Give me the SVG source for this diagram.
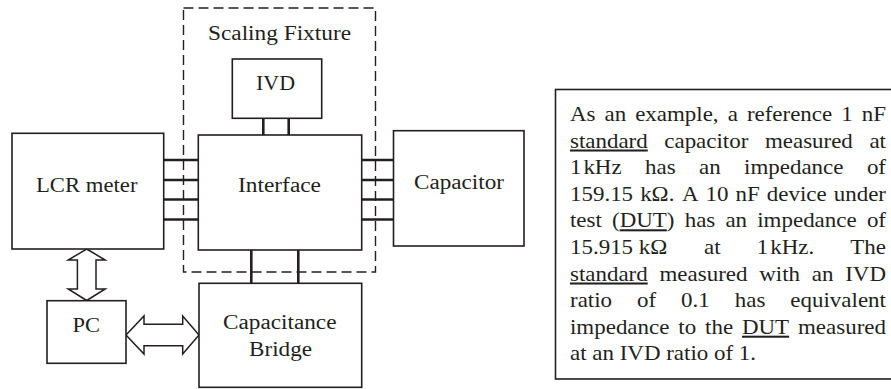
<svg xmlns="http://www.w3.org/2000/svg" width="891" height="389" viewBox="0 0 891 389">
<style>
.box{fill:#fff;stroke:#231f20;stroke-width:1.6}
.lbl{font-family:"Liberation Serif","Times New Roman",serif;font-size:20.5px;fill:#231f20}
.wire{stroke:#231f20;stroke-width:2.6;fill:none}
.dash{fill:none;stroke:#231f20;stroke-width:1.4;stroke-dasharray:10 5}
.arr{fill:#fff;stroke:#231f20;stroke-width:1.5;stroke-linejoin:miter}
.u{text-decoration:underline}
</style>
<rect width="891" height="389" fill="#fff"/>
<g id="scaling-fixture">
<rect class="dash" x="183.5" y="8" width="192" height="264"/>
<text class="lbl" x="208" y="39.5" textLength="143" lengthAdjust="spacingAndGlyphs">Scaling Fixture</text>
</g>
<g id="connectors">
<line class="wire" x1="163.7" y1="160" x2="198.3" y2="160"/>
<line class="wire" x1="163.7" y1="180" x2="198.3" y2="180"/>
<line class="wire" x1="163.7" y1="199.5" x2="198.3" y2="199.5"/>
<line class="wire" x1="163.7" y1="219.5" x2="198.3" y2="219.5"/>
<line class="wire" x1="361.7" y1="160" x2="393.5" y2="160"/>
<line class="wire" x1="361.7" y1="180" x2="393.5" y2="180"/>
<line class="wire" x1="361.7" y1="199.5" x2="393.5" y2="199.5"/>
<line class="wire" x1="361.7" y1="219.5" x2="393.5" y2="219.5"/>
<line class="wire" x1="263.3" y1="118.3" x2="263.3" y2="135"/>
<line class="wire" x1="288.7" y1="118.3" x2="288.7" y2="135"/>
<line class="wire" x1="251.3" y1="250" x2="251.3" y2="283.3"/>
<line class="wire" x1="298.3" y1="250" x2="298.3" y2="283.3"/>
<polygon class="arr" points="86.7,249 105.2,260 96,260 96,289 105.2,289 86.7,300.5 68.2,289 77.4,289 77.4,260 68.2,260"/>
<polygon class="arr" points="126,335 144,316 144,324.2 182.7,324.2 182.7,316 199,335 182.7,354 182.7,345.8 144,345.8 144,354"/>
</g>
<g id="ivd">
<rect class="box" x="232.3" y="59" width="89.4" height="59.3"/>
<text class="lbl" x="256" y="90" textLength="39" lengthAdjust="spacingAndGlyphs">IVD</text>
</g>
<g id="interface">
<rect class="box" x="198.3" y="135" width="163.4" height="115"/>
<text class="lbl" x="238" y="192" textLength="83" lengthAdjust="spacingAndGlyphs">Interface</text>
</g>
<g id="lcr-meter">
<rect class="box" x="12" y="133.3" width="151.7" height="115.7"/>
<text class="lbl" x="36" y="191.7" textLength="101.5" lengthAdjust="spacingAndGlyphs">LCR meter</text>
</g>
<g id="capacitor">
<rect class="box" x="393.5" y="130.7" width="130.5" height="115.3"/>
<text class="lbl" x="414" y="188.5" textLength="90" lengthAdjust="spacingAndGlyphs">Capacitor</text>
</g>
<g id="pc">
<rect class="box" x="47" y="300.7" width="79" height="62.6"/>
<text class="lbl" x="72.5" y="331.7" textLength="27.5" lengthAdjust="spacingAndGlyphs">PC</text>
</g>
<g id="capacitance-bridge">
<rect class="box" x="199" y="283.3" width="162.7" height="104"/>
<text class="lbl" x="223" y="329.3" textLength="113.5" lengthAdjust="spacingAndGlyphs">Capacitance</text>
<text class="lbl" x="249" y="355.7" textLength="63" lengthAdjust="spacingAndGlyphs">Bridge</text>
</g>
<g id="note">
<rect class="box" x="555.5" y="89.5" width="345" height="289.5"/>
<g transform="translate(570 0) scale(1.12 1)" class="lbl">
<text y="121"><tspan x="0">As</tspan><tspan x="30.81">an</tspan><tspan x="58.19">example,</tspan><tspan x="140.8">a</tspan><tspan x="157.94">reference</tspan><tspan x="242.21">1</tspan><tspan x="260.49">nF</tspan></text>
<text y="147.6"><tspan x="0" class="u">standard</tspan><tspan x="84.19">capacitor</tspan><tspan x="174.05">measured</tspan><tspan x="267.34">at</tspan></text>
<text y="174.2"><tspan x="0">1&#8202;kHz</tspan><tspan x="66.97">has</tspan><tspan x="115.17">an</tspan><tspan x="155.39">impedance</tspan><tspan x="265.07">of</tspan></text>
<text y="200.8"><tspan x="0">159.15</tspan><tspan x="62.63">kΩ.</tspan><tspan x="100">A</tspan><tspan x="121.05">10</tspan><tspan x="147.81">nF</tspan><tspan x="175.71">device</tspan><tspan x="235.46">under</tspan></text>
<text y="227.4"><tspan x="0">test</tspan><tspan x="37.54">(</tspan><tspan class="u">DUT</tspan><tspan>)</tspan><tspan x="102.39">has</tspan><tspan x="138.78">an</tspan><tspan x="167.19">impedance</tspan><tspan x="265.07">of</tspan></text>
<text y="254"><tspan x="0">15.915 kΩ</tspan><tspan x="119.74">at</tspan><tspan x="166.79">1&#8202;kHz.</tspan><tspan x="250.26">The</tspan></text>
<text y="280.6"><tspan x="0" class="u">standard</tspan><tspan x="79.93">measured</tspan><tspan x="168.96">with</tspan><tspan x="215.89">an</tspan><tspan x="245.71">IVD</tspan></text>
<text y="307.2"><tspan x="0">ratio</tspan><tspan x="59.86">of</tspan><tspan x="99.22">0.1</tspan><tspan x="147.13">has</tspan><tspan x="196.74">equivalent</tspan></text>
<text y="333.8"><tspan x="0">impedance</tspan><tspan x="96.72">to</tspan><tspan x="120.58">the</tspan><tspan x="153.55" class="u">DUT</tspan><tspan x="203.59">measured</tspan></text>
<text y="360.4" x="0">at an IVD ratio of 1.</text>
</g>
</g>
</svg>
